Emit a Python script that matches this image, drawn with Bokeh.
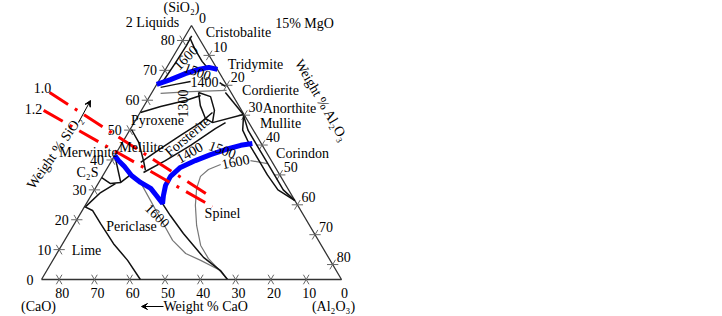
import numpy as np
from bokeh.plotting import figure
from bokeh.models import Range1d, Arrow, VeeHead
from bokeh.embed import file_html
from bokeh.resources import INLINE
from bokeh.core.properties import value

# ---------------- data (compositions in wt%, SiO2 + CaO + Al2O3 = 85 at 15% MgO) ----------------
TOTAL = 85.0
tick_values = [0, 10, 20, 30, 40, 50, 60, 70, 80]

# thick blue liquidus curves
blue_top_sio2 = [65.3, 66.9, 68.9, 70.3, 71.0, 70.3]
blue_top_al2o3 = [0.0, 3.1, 6.3, 9.3, 11.9, 14.7]
blue_low_sio2 = [41.5, 39.8, 37.8, 34.8, 32.5, 30.5, 28.1, 25.4, 28.1, 31.5, 34.5, 37.5, 39.8, 41.8, 43.5, 44.9, 45.5]
blue_low_al2o3 = [0.0, 1.9, 4.6, 8.1, 11.8, 15.7, 18.5, 21.6, 20.5, 19.4, 19.3, 20.6, 23.7, 27.0, 30.4, 34.0, 37.0]

# red basicity lines
red10_sio2 = [62.6, 27.4]
red10_al2o3 = [-29.0, 34.7]
red12_sio2 = [56.6, 24.4]
red12_al2o3 = [-27.7, 36.2]

# black field boundaries
lime_sio2 = [24.4, 23.1, 18.7, 12.0, 6.4, 0.0]
lime_al2o3 = [0.0, 2.9, 7.4, 14.4, 21.2, 28.0]
peri_sio2 = [25.4, 21.4, 15.4, 7.4, 3.0, 0.0]
peri_al2o3 = [21.6, 25.8, 32.5, 42.2, 49.2, 52.7]
c2s_arc_sio2 = [34.1, 32.1, 32.5, 34.5, 35.8]
c2s_arc_al2o3 = [0.0, 3.5, 6.2, 7.4, 7.6]
c2s_low_sio2 = [24.4, 29.1, 32.1]
c2s_low_al2o3 = [0.3, 2.2, 4.9]
merw_sio2 = [40.8, 32.5]
merw_al2o3 = [0.5, 6.2]
fo1_sio2 = [35.8, 39.8, 44.9, 50.5, 52.5]
fo1_al2o3 = [11.0, 15.2, 19.8, 24.0, 25.9]
fo2_sio2 = [39.2, 43.8, 48.2, 52.5, 55.9]
fo2_al2o3 = [8.5, 11.8, 15.3, 18.8, 20.5]
py1_sio2 = [50.2, 45.9, 39.8, 36.5]
py1_al2o3 = [0.4, 4.6, 9.0, 11.2]
py2_sio2 = [55.9, 57.9, 59.9, 61.6]
py2_al2o3 = [0.1, 4.8, 10.9, 14.3]
cr1_sio2 = [66.6, 72.6, 78.3, 81.5]
cr1_al2o3 = [1.3, 1.7, 1.9, 1.8]
cr2_sio2 = [81.0, 77.0, 73.0, 70.5]
cr2_al2o3 = [1.5, 5.0, 9.0, 12.0]
i1400a_sio2 = [64.3, 65.3, 66.3]
i1400a_al2o3 = [1.6, 5.3, 9.1]
i1400b_sio2 = [65.9, 64.6]
i1400b_al2o3 = [17.5, 19.8]
cord_sio2 = [62.6, 58.2, 53.9, 52.5, 56.6, 61.2, 62.6]
cord_al2o3 = [13.2, 15.9, 19.5, 22.2, 20.7, 17.3, 13.2]
an1_sio2 = [55.2, 52.5]
an1_al2o3 = [29.6, 22.2]
an2_sio2 = [55.2, 62.6]
an2_al2o3 = [29.6, 20.8]
mul1_sio2 = [54.9, 50.0, 45.0, 40.0, 35.0, 30.0, 26.4]
mul1_al2o3 = [29.8, 33.5, 38.5, 43.5, 48.5, 53.5, 58.6]
mul2_sio2 = [54.9, 50.0, 45.0, 40.0, 35.0, 30.0, 26.4]
mul2_al2o3 = [29.8, 32.0, 36.5, 41.5, 46.5, 52.0, 58.6]

# grey isotherms
g1_sio2 = [32.5, 26.4, 20.4, 13.1, 8.7, 6.4, 3.0]
g1_al2o3 = [11.8, 17.7, 23.5, 30.6, 36.5, 41.9, 49.2]
g1600a_sio2 = [38.5, 36.8, 34.5, 30.5, 24.8, 18.1, 11.4, 7.0, 3.4, 0.0]
g1600a_al2o3 = [31.5, 28.9, 27.8, 28.7, 31.2, 34.9, 39.4, 43.8, 48.5, 52.7]
g1600b_sio2 = [39.8, 38.8]
g1600b_al2o3 = [39.3, 44.6]
g_top_sio2 = [62.3, 62.9, 63.3]
g_top_al2o3 = [2.6, 10.8, 20.8]

# ---------------- figure ----------------
W, H = 722, 316
SX, SY = 3.5294, 2.988  # px per composition unit
OX, OY = 41.0, 279.0     # pixel position of the CaO corner

p = figure(width=W, height=H,
           x_range=Range1d(-OX / SX, (W - OX) / SX),
           y_range=Range1d((OY - H) / SY, OY / SY),
           output_backend="svg", toolbar_location=None, min_border=0,
           x_axis_location=None, y_axis_location=None)
p.grid.visible = False
p.outline_line_color = None
p.background_fill_color = "white"


def tern(sio2, al2o3):
    s = np.asarray(sio2, float)
    a = np.asarray(al2o3, float)
    return (a + s / 2).tolist(), s.tolist()


def at(X, Y):
    return (X - OX) / SX, (OY - Y) / SY


FONT = value("Liberation Serif")


def txt(X, Y, t, size=14, angle=0, align="center", color="black"):
    x, y = at(X, Y)
    p.text(x=[x], y=[y], text=[t], angle=np.radians(angle), text_align=align,
           text_baseline="middle", text_font=FONT, text_font_size=f"{size}px", text_color=color)


def curve(s, a, color="#111111", width=1.6, dash="solid"):
    x, y = tern(s, a)
    p.line(x, y, line_color=color, line_width=width, line_dash=dash)


# triangle
tx, ty = tern([0, 0, TOTAL, 0], [0, TOTAL, 0, 0])
p.line(tx, ty, line_color="#333333", line_width=1.3)

# ticks
d = 1.6
xs, ys = [], []
for v in tick_values:
    if v > 0:
        for ss, aa in (([v, v], [-d, d]), ([v + d, v - d], [-d, d])):
            x, y = tern(ss, aa); xs.append(x); ys.append(y)
        a0 = TOTAL - v
        for ss, aa in (([-d, d], [a0, a0]), ([-d, d], [a0 + d, a0 - d])):
            x, y = tern(ss, aa); xs.append(x); ys.append(y)
        s0 = TOTAL - v
        for ss, aa in (([s0, s0], [v - d, v + d]), ([s0 - d, s0 + d], [v, v])):
            x, y = tern(ss, aa); xs.append(x); ys.append(y)
p.multi_line(xs, ys, line_color="#666666", line_width=1)

# tick labels
for v in tick_values:
    x, y = tern([v], [0])
    p.text(x=[x[0] - 8 / SX], y=[y[0]], text=[str(v)], text_align="right", text_baseline="middle",
           text_font=FONT, text_font_size="14px")
    x, y = tern([0], [TOTAL - v])
    p.text(x=[x[0] + 3 / SX], y=[y[0] - 13 / SY], text=[str(v)], text_align="center", text_baseline="middle",
           text_font=FONT, text_font_size="14px")
    x, y = tern([TOTAL - v], [v])
    p.text(x=[x[0] + 11 / SX], y=[y[0] + 8 / SY], text=[str(v)], text_align="center", text_baseline="middle",
           text_font=FONT, text_font_size="14px")

# grey isotherms
for s, a in ((g1_sio2, g1_al2o3), (g1600a_sio2, g1600a_al2o3), (g1600b_sio2, g1600b_al2o3),
             (g_top_sio2, g_top_al2o3)):
    curve(s, a, color="#777777", width=1.2)

# black boundaries
for s, a in ((lime_sio2, lime_al2o3), (peri_sio2, peri_al2o3), (c2s_arc_sio2, c2s_arc_al2o3),
             (c2s_low_sio2, c2s_low_al2o3), (merw_sio2, merw_al2o3), (fo1_sio2, fo1_al2o3),
             (fo2_sio2, fo2_al2o3), (py1_sio2, py1_al2o3), (py2_sio2, py2_al2o3),
             (cr1_sio2, cr1_al2o3), (cr2_sio2, cr2_al2o3), (i1400a_sio2, i1400a_al2o3),
             (i1400b_sio2, i1400b_al2o3), (cord_sio2, cord_al2o3), (an1_sio2, an1_al2o3),
             (an2_sio2, an2_al2o3), (mul1_sio2, mul1_al2o3), (mul2_sio2, mul2_al2o3)):
    curve(s, a, color="#111111", width=1.5)

# blue curves
curve(blue_top_sio2, blue_top_al2o3, color="#0000ff", width=5)
curve(blue_low_sio2, blue_low_al2o3, color="#0000ff", width=5)

# red basicity lines
curve(red10_sio2, red10_al2o3, color="#ff0000", width=3, dash="22 8 3 8")
curve(red12_sio2, red12_al2o3, color="#ff0000", width=3, dash="22 8 3 8")

# labels
txt(42, 87, "1.0")
txt(33, 108, "1.2")
txt(181, 7, "(SiO\u2082)")
txt(152, 22, "2 Liquids")
txt(304, 23, "15% MgO")
txt(238, 32, "Cristobalite")
txt(255, 64, "Tridymite")
txt(270, 90, "Cordierite")
txt(289, 108, "Anorthite")
txt(280, 123, "Mullite")
txt(302, 153, "Corindon")
txt(222, 213, "Spinel")
txt(131, 226, "Periclase")
txt(86, 250, "Lime")
txt(38, 306, "(CaO)")
txt(163, 306, "Weight % CaO", align="left")
txt(333, 306, "(Al\u2082O\u2083)")
txt(157, 120, "Pyroxene")
txt(141, 147, "Melilite")
txt(88, 152, "Merwinite")
txt(87, 172, "C\u2082S")
txt(187, 136, "Forsterite", angle=40)
txt(54, 152, "Weight % SiO\u2082", angle=55)
txt(321, 100, "Weight % Al\u2082O\u2083", angle=-60)

# isotherm labels
txt(185, 57, "1600", angle=45)
txt(197, 71, "1500", angle=-20)
txt(204, 81, "1400")
txt(182, 103, "1300", angle=90)
txt(189, 152, "1400", angle=30)
txt(222, 149, "1500", angle=-20)
txt(235, 161, "1600", angle=12)
txt(157, 215, "1600", angle=-45)

# arrows
x0, y0 = at(163, 306); x1, y1 = at(141, 306)
p.add_layout(Arrow(end=VeeHead(size=6, line_color="black", line_width=1), x_start=x0, y_start=y0,
                   x_end=x1, y_end=y1, line_color="black", line_width=1))
x0, y0 = at(78, 122); x1, y1 = at(90, 100)
p.add_layout(Arrow(end=VeeHead(size=6, line_color="black", line_width=1), x_start=x0, y_start=y0,
                   x_end=x1, y_end=y1, line_color="black", line_width=1))

open("out.html", "w").write(file_html(p, INLINE))
